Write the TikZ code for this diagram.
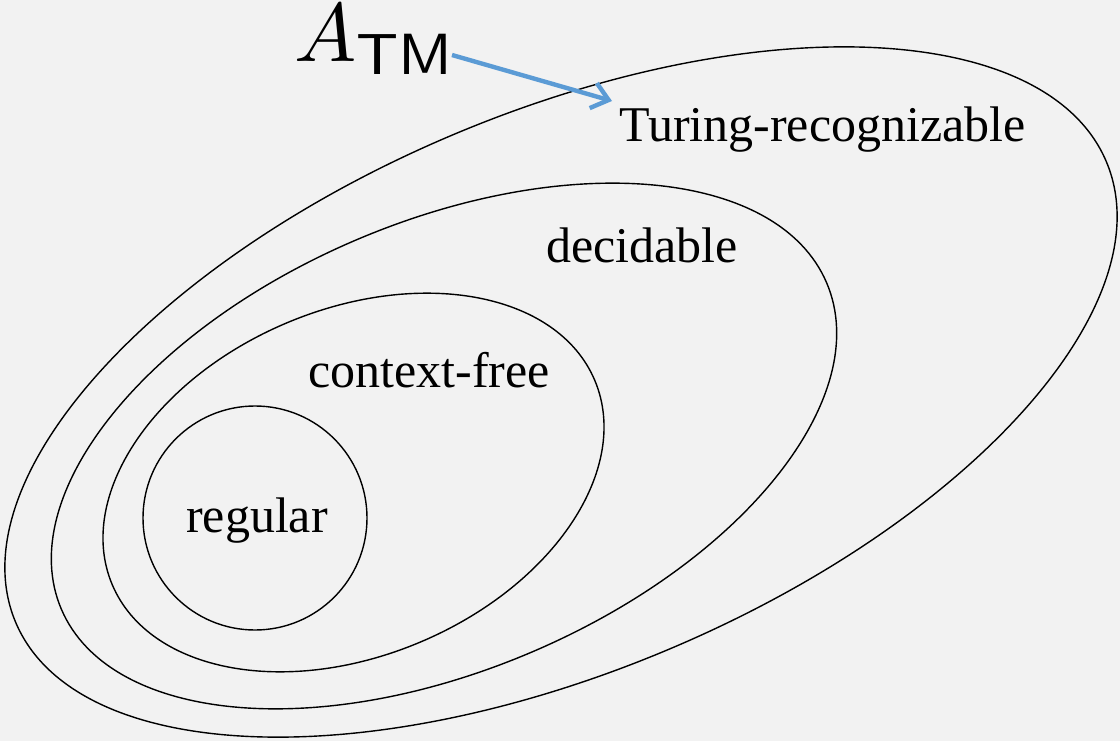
\documentclass[tikz,border=0pt]{standalone}
\usepackage{graphicx}
\usepackage{fontspec}
\setmainfont{Liberation Serif}
\usetikzlibrary{arrows.meta}
\definecolor{bgcol}{HTML}{F2F2F2}
\definecolor{arrowblue}{HTML}{5B9BD5}
\begin{document}
\begin{tikzpicture}[x=1pt,y=-1pt,
  setline/.style={draw=black,line width=1.4pt},
  setlabel/.style={anchor=base west,inner sep=0pt,font=\fontsize{50}{60}\selectfont},
  pointer/.style={draw=arrowblue,line width=4.4pt,-{Straight Barb[length=16pt,width=26pt]}}]
  % canvas
  \fill[bgcol] (0,0) rectangle (1120,741);
  \useasboundingbox (0,0) rectangle (1120,741);

  % nested language classes
  \draw[setline,rotate around={22.9:(561,392)}] (561,392) ellipse [x radius=592, y radius=279];
  \draw[setline,rotate around={23.1:(444,446)}] (444,446) ellipse [x radius=416, y radius=224];
  \draw[setline,rotate around={23:(353.5,482.5)}] (353.5,482.5) ellipse [x radius=262, y radius=173];
  \draw[setline] (255,518) circle [radius=112];

  % class names
  \node[setlabel] (tr)  at (619,142) {Turing-recognizable};
  \node[setlabel] (dec) at (546,262) {decidable};
  \node[setlabel] (cf)  at (308,387) {context-free};
  \node[setlabel] (reg) at (186,532) {regular};

  % the language A_TM and its pointer
  \node[anchor=base west,inner sep=0pt] (atm) at (294,62) {\scalebox{8.3}{$A_{\mathsf{TM}}$}};
  \coordinate (atmtail) at (452,55);
  \coordinate (atmtip) at (612,101);
  \draw[pointer] (atmtail) -- (atmtip);
\end{tikzpicture}
\end{document}
